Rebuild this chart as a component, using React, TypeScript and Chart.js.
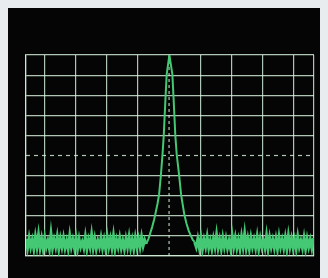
import React, { useEffect, useRef } from "react";
import { Chart, registerables } from "chart.js";

Chart.register(...registerables);

// Frequency axis: divisions relative to centre (0), screen cropped at both ends
const freqMin = -4.58;
const freqMax = 4.64;
const freqTicks = [-4, -3, -2, -1, 0, 1, 2, 3, 4];
const levelTicks = [0, 1, 2, 3, 4, 5, 6, 7, 8, 9, 10];
const levelMin = 0;
const levelMax = 10;

// Noise floor sampling grid
const noiseStep = 0.05;
const noiseLeftStart = -4.58;
const noiseRightStart = 0.82;

const noiseLeft = [
  0.85, 0.4, 0.9, 0.45, 0.8, 0.35, 0.95, 0.45, 1.05, 0.4, 0.85, 0.35, 0.9, 0.45, 0.75, 0.35, 1.1, 0.4, 0.8, 0.45,
  0.95, 0.35, 0.85, 0.45, 0.9, 0.4, 0.75, 0.35, 1.0, 0.45, 0.8, 0.4, 0.9, 0.35, 0.85, 0.45, 0.7, 0.4, 0.95, 0.35,
  0.8, 0.45, 1.05, 0.4, 0.85, 0.35, 0.75, 0.45, 0.9, 0.4, 0.8, 0.35, 0.95, 0.45, 0.85, 0.4, 1.0, 0.35, 0.8, 0.45,
  0.9, 0.4, 0.75, 0.35, 0.85, 0.45, 0.95, 0.4, 0.8, 0.35, 0.9, 0.45, 0.85, 0.45, 0.95, 0.5, 0.8, 0.6,
];

const peakFreq = [
  -0.73, -0.66, -0.6, -0.54, -0.48, -0.43, -0.37, -0.32, -0.26, -0.21, -0.17, -0.14, -0.11, -0.075, 0.01,
  0.105, 0.14, 0.17, 0.2, 0.245, 0.32, 0.385, 0.49, 0.56, 0.63, 0.7, 0.76, 0.82,
];
const peakLevel = [
  0.6, 0.85, 1.15, 1.45, 1.8, 2.15, 2.6, 3.05, 4.05, 5.05, 6, 7, 8, 9.05, 10,
  9.05, 8, 7, 6, 5.05, 4.05, 3.05, 2.05, 1.6, 1.25, 1.0, 0.8, 0.7,
];

const noiseRight = [
  0.7, 0.45, 0.85, 0.4, 0.9, 0.35, 0.8, 0.45, 0.95, 0.4, 0.75, 0.35, 0.85, 0.45, 1.05, 0.4, 0.8, 0.35, 0.9, 0.45,
  0.85, 0.4, 0.75, 0.35, 1.0, 0.45, 0.9, 0.4, 0.8, 0.35, 0.95, 0.45, 1.1, 0.4, 0.85, 0.35, 0.9, 0.45, 0.8, 0.4,
  0.95, 0.35, 0.85, 0.45, 0.75, 0.4, 1.0, 0.35, 0.9, 0.45, 0.8, 0.4, 0.85, 0.35, 0.95, 0.45, 0.8, 0.4, 0.9, 0.35,
  1.0, 0.45, 0.85, 0.4, 0.8, 0.35, 0.95, 0.45, 0.75, 0.4, 0.9, 0.35, 0.85, 0.45, 0.8, 0.4, 0.9,
];

const GRID = "rgba(212,240,218,0.82)";
const TRACE = "#44c873";

export default function App() {
  const ref = useRef<HTMLCanvasElement | null>(null);

  useEffect(() => {
    document.body.style.background = "#e9ecee";
    const left = noiseLeft.map((v, i) => ({ x: noiseLeftStart + i * noiseStep, y: v }));
    const peak = peakFreq.map((f, i) => ({ x: f, y: peakLevel[i] }));
    const right = noiseRight.map((v, i) => ({ x: noiseRightStart + i * noiseStep, y: v }));

    const traceStyle = { borderColor: TRACE, pointRadius: 0, tension: 0, order: 0 };

    const chart = new Chart(ref.current as HTMLCanvasElement, {
      type: "line",
      data: {
        datasets: [
          { data: left, borderWidth: 3, ...traceStyle },
          { data: right, borderWidth: 3, ...traceStyle },
          { data: peak, borderWidth: 2, ...traceStyle },
          {
            data: [
              { x: 0, y: levelMin },
              { x: 0, y: levelMax },
            ],
            borderColor: GRID,
            borderWidth: 1.2,
            borderDash: [3, 3],
            pointRadius: 0,
            order: 2,
          },
          {
            data: [
              { x: freqMin, y: 5 },
              { x: freqMax, y: 5 },
            ],
            borderColor: GRID,
            borderWidth: 1.2,
            borderDash: [4, 4],
            pointRadius: 0,
            order: 2,
          },
        ],
      },
      options: {
        responsive: false,
        animation: false,
        events: [],
        layout: { padding: { left: 18, right: 14, top: 47, bottom: 22 } },
        plugins: { legend: { display: false }, tooltip: { enabled: false } },
        scales: {
          x: {
            type: "linear",
            min: freqMin,
            max: freqMax,
            afterBuildTicks: (s: any) => {
              s.ticks = [freqMin, ...freqTicks, freqMax].map((v) => ({ value: v }));
            },
            ticks: { display: false },
            grid: {
              drawTicks: false,
              lineWidth: 1.2,
              color: (ctx: any) => (ctx.tick && ctx.tick.value === 0 ? "rgba(0,0,0,0)" : GRID),
            },
            border: { display: true, color: GRID, width: 1.2 },
          },
          y: {
            type: "linear",
            min: levelMin,
            max: levelMax,
            afterBuildTicks: (s: any) => {
              s.ticks = levelTicks.map((v) => ({ value: v }));
            },
            ticks: { display: false },
            grid: {
              drawTicks: false,
              lineWidth: 1.2,
              color: (ctx: any) => (ctx.tick && ctx.tick.value === 5 ? "rgba(0,0,0,0)" : GRID),
            },
            border: { display: true, color: GRID, width: 1.2 },
          },
        },
      },
    });
    return () => chart.destroy();
  }, []);

  return (
    <canvas
      ref={ref}
      width={320}
      height={270}
      style={{ display: "block", width: 320, height: 270, background: "#050505" }}
    />
  );
}
